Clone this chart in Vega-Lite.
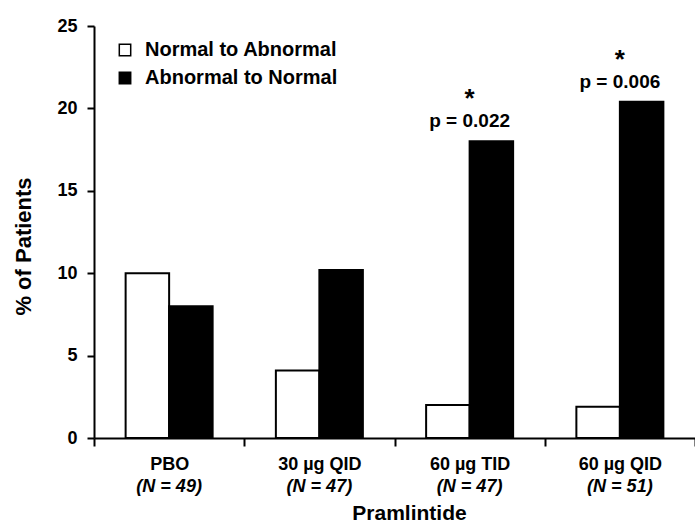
{
  "$schema": "https://vega.github.io/schema/vega-lite/v6.json",
  "width": 601,
  "height": 412,
  "autosize": {"type": "none"},
  "padding": {"left": 94, "top": 26, "right": 0, "bottom": 85},
  "background": "white",
  "config": {"view": {"stroke": null}, "font": "Liberation Sans", "axis": {"grid": false}},
  "layer": [
    {
      "data": {"values": [
        {"dose": "PBO", "transition": "Normal to Abnormal", "pct": 10.0},
        {"dose": "PBO", "transition": "Abnormal to Normal", "pct": 8.0},
        {"dose": "30 µg QID", "transition": "Normal to Abnormal", "pct": 4.1},
        {"dose": "30 µg QID", "transition": "Abnormal to Normal", "pct": 10.2},
        {"dose": "60 µg TID", "transition": "Normal to Abnormal", "pct": 2.0},
        {"dose": "60 µg TID", "transition": "Abnormal to Normal", "pct": 18.0},
        {"dose": "60 µg QID", "transition": "Normal to Abnormal", "pct": 1.9},
        {"dose": "60 µg QID", "transition": "Abnormal to Normal", "pct": 20.4}
      ]},
      "mark": {"type": "bar", "stroke": "black", "strokeWidth": 2},
      "encoding": {
        "x": {
          "field": "dose", "type": "nominal",
          "sort": ["PBO", "30 µg QID", "60 µg TID", "60 µg QID"],
          "scale": {"paddingInner": 0, "paddingOuter": 0},
          "axis": {
            "orient": "bottom", "title": null, "labelAngle": 0,
            "labelFontSize": 18, "labelFontWeight": "bold", "labelColor": "black",
            "labelBaseline": "alphabetic", "labelPadding": 23,
            "tickSize": 8, "tickWidth": 2, "tickColor": "black", "tickBand": "extent",
            "domainColor": "black", "domainWidth": 2
          }
        },
        "xOffset": {
          "field": "transition", "type": "nominal",
          "sort": ["Normal to Abnormal", "Abnormal to Normal"],
          "scale": {"paddingInner": 0, "paddingOuter": 0.727}
        },
        "y": {
          "field": "pct", "type": "quantitative",
          "scale": {"domain": [0, 25], "nice": false},
          "axis": {
            "values": [0, 5, 10, 15, 20, 25],
            "tickSize": 7, "tickWidth": 2, "tickColor": "black",
            "domainColor": "black", "domainWidth": 2,
            "labelPadding": 10, "labelFontSize": 18, "labelFontWeight": "bold", "labelColor": "black",
            "title": "% of Patients", "titleFontSize": 22, "titleFontWeight": "bold", "titleColor": "black",
            "titleX": -71, "titleY": 220, "titleAngle": -90, "titleAlign": "center", "titleBaseline": "middle"
          }
        },
        "fill": {
          "field": "transition", "type": "nominal",
          "scale": {"domain": ["Normal to Abnormal", "Abnormal to Normal"], "range": ["white", "black"]},
          "legend": {
            "title": null, "orient": "none", "legendX": 21, "legendY": 14, "padding": 0,
            "symbolType": "square", "symbolSize": 130, "symbolStrokeColor": "black", "symbolStrokeWidth": 1.5,
            "labelFontSize": 20, "labelFontWeight": "bold", "labelColor": "black", "labelLimit": 0,
            "labelOffset": 10, "rowPadding": 8
          }
        }
      }
    },
    {
      "data": {"values": [
        {"dose": "60 µg TID", "pct": 18.0, "p": "p = 0.022"},
        {"dose": "60 µg QID", "pct": 20.4, "p": "p = 0.006"}
      ]},
      "mark": {"type": "text", "fontSize": 19, "fontWeight": "bold", "dy": -14, "baseline": "alphabetic", "align": "center", "color": "black"},
      "encoding": {
        "x": {
          "field": "dose", "type": "nominal",
          "sort": ["PBO", "30 µg QID", "60 µg TID", "60 µg QID"],
          "axis": {
            "orient": "bottom", "domain": false, "ticks": false, "tickSize": 0,
            "labelAngle": 0, "labelPadding": 53, "labelBaseline": "alphabetic",
            "labelFontSize": 18, "labelFontWeight": "bold", "labelFontStyle": "italic", "labelColor": "black",
            "labelExpr": "datum.value == 'PBO' ? '(N = 49)' : datum.value == '30 µg QID' ? '(N = 47)' : datum.value == '60 µg TID' ? '(N = 47)' : '(N = 51)'",
            "title": "Pramlintide", "titleFontSize": 21, "titleFontWeight": "bold", "titleColor": "black",
            "titleX": 315, "titleY": 81, "titleAlign": "center", "titleBaseline": "alphabetic"
          }
        },
        "y": {"field": "pct", "type": "quantitative"},
        "text": {"field": "p"}
      }
    },
    {
      "data": {"values": [
        {"dose": "60 µg TID", "pct": 18.0},
        {"dose": "60 µg QID", "pct": 20.4}
      ]},
      "mark": {"type": "text", "text": "*", "fontSize": 26, "fontWeight": "bold", "dy": -34, "baseline": "alphabetic", "align": "center", "color": "black"},
      "encoding": {
        "x": {"field": "dose", "type": "nominal", "sort": ["PBO", "30 µg QID", "60 µg TID", "60 µg QID"], "axis": null},
        "y": {"field": "pct", "type": "quantitative"}
      }
    }
  ],
  "resolve": {"axis": {"x": "independent"}}
}
